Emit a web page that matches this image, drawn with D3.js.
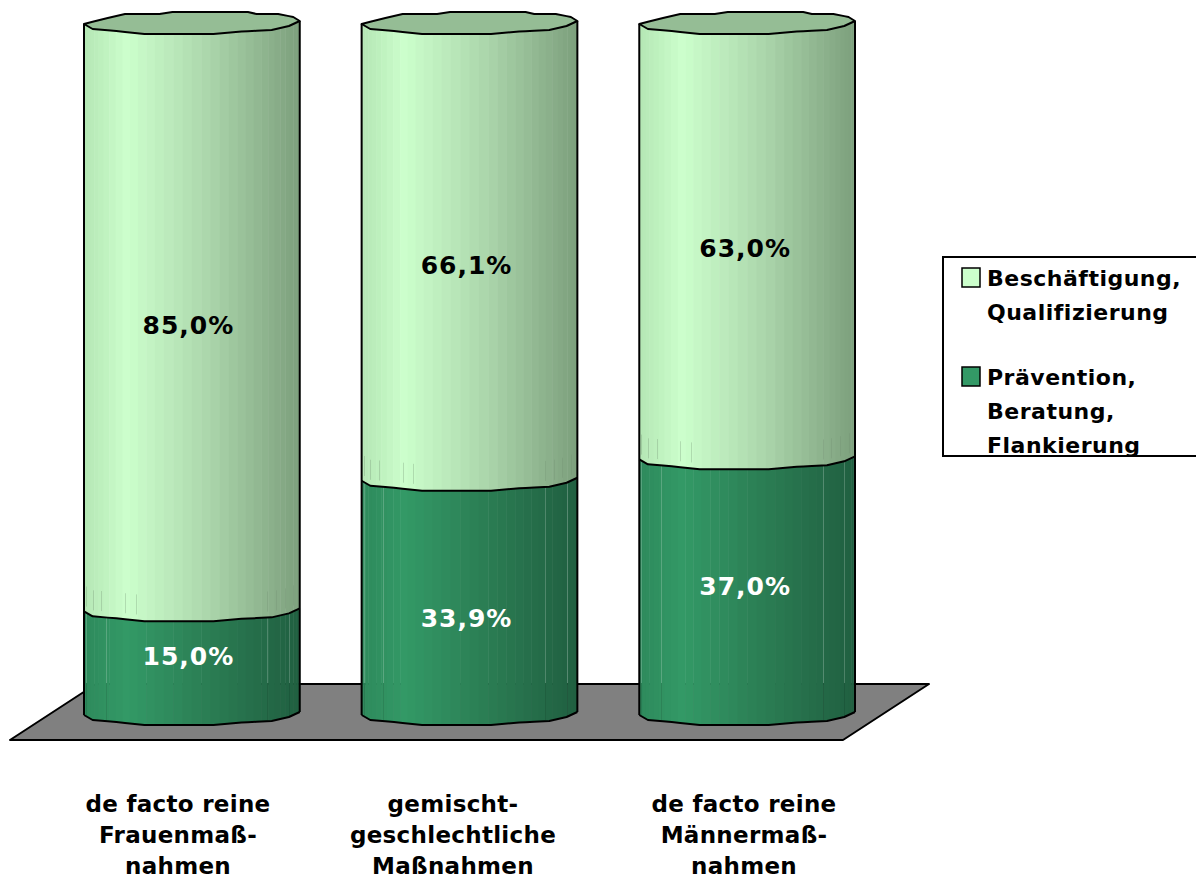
<!DOCTYPE html>
<html>
<head>
<meta charset="utf-8">
<style>
html,body{margin:0;padding:0;background:#fff;overflow:hidden}
svg{display:block}
text{font-family:"DejaVu Sans",sans-serif;font-weight:bold}
</style>
<script src="https://cdn.jsdelivr.net/npm/d3@7/dist/d3.min.js"></script>
</head>
<body>
<svg id="chart" width="1196" height="876"></svg>
<script>
// Share of measures by field of action, per group of measures
const categories = [
  ["de facto reine", "Frauenmaß-", "nahmen"],
  ["gemischt-", "geschlechtliche", "Maßnahmen"],
  ["de facto reine", "Männermaß-", "nahmen"]
];
const seriesNames = [
  ["Beschäftigung,", "Qualifizierung"],
  ["Prävention,", "Beratung,", "Flankierung"]
];
const praevention = [15.0, 33.9, 37.0];
const beschaeftigung = [85.0, 66.1, 63.0];

const svg = d3.select("#chart");
const y = d3.scaleLinear().domain([0, 100]).range([714, 23]);
const x = d3.scaleBand().domain(d3.range(categories.length)).range([84, 855]).paddingInner(0.223);
const bw = x.bandwidth();
const fmt = v => v.toFixed(1).replace(".", ",") + "%";

// Cylinder shading runs left to right across the visible face
const stops = [0, 0.2, 0.55, 1];
const lightShade = d3.scaleLinear().domain(stops).range(["#b4e6b4", "#ccffcc", "#aed9ae", "#7c9f7c"]);
const darkShade = d3.scaleLinear().domain(stops).range(["#2e8a5c", "#339966", "#2b7f55", "#205f40"]);

// Faceted rim outlines: horizontal fraction of the cylinder against vertical offset
const frontRim = d3.scaleLinear()
  .domain([0, .04, .15, .28, .6, .73, .87, .95, 1])
  .range([1, 6, 8, 11, 11, 8.5, 7, 3, -2]);
const backRim = d3.scaleLinear()
  .domain([0, .11, .19, .35, .41, .76, .8, .9, .97, 1])
  .range([1, -5, -9, -9, -11, -11, -9, -9, -6, -2]);
const rimFractions = [0, .04, .11, .15, .19, .28, .35, .41, .6, .73, .76, .8, .87, .9, .95, .97, 1];

// Floor plane
svg.append("polygon")
  .attr("points", [[10, 740], [843, 740], [929, 684], [96, 684]].join(" "))
  .attr("fill", "#808080").attr("stroke", "#000").attr("stroke-width", 2)
  .attr("stroke-linejoin", "round");

// Colour strips: narrow near the silhouette, wider toward the middle
const strips = 36;
const stripEdges = d3.range(strips + 1).map(i => (1 - Math.cos(i * Math.PI / strips)) / 2);
const line = d3.line();
const rimPath = (x0, base, rim) => rimFractions.map(f => [x0 + f * bw, base + rim(f)]);

// Seams show through near the silhouette, as short ticks or full-height lines
const shortSeams = [.01, .04, .08, .19, .24, .85, .89, .93, .97];
const longSeams = [.01, .1, .85, .95];

function segment(g, x0, v0, v1, shade) {
  const yb = y(v0), yt = y(v1);
  stripEdges.slice(0, -1).forEach((f0, i) => {
    const f1 = stripEdges[i + 1];
    g.append("polygon")
      .attr("points", [
        [x0 + f0 * bw, yt + frontRim(f0)], [x0 + f1 * bw + 0.5, yt + frontRim(f1)],
        [x0 + f1 * bw + 0.5, yb + frontRim(f1)], [x0 + f0 * bw, yb + frontRim(f0)]
      ].join(" "))
      .attr("fill", shade((f0 + f1) / 2));
  });
}

categories.forEach((lines, i) => {
  const g = svg.append("g");
  const x0 = x(i);
  const yBoundary = y(praevention[i]);
  segment(g, x0, 0, praevention[i], darkShade);
  segment(g, x0, praevention[i], 100, lightShade);

  // Seams in the upper stack stop shortly above the divider
  shortSeams.forEach(f => {
    const sx = Math.round(x0 + f * bw) + 0.5;
    g.append("line").attr("x1", sx).attr("x2", sx)
      .attr("y1", yBoundary + frontRim(f) - 26).attr("y2", yBoundary + frontRim(f) - 6)
      .attr("stroke", "#6f8f6f").attr("stroke-opacity", 0.3);
  });
  // Seams in the lower stack run from the divider to floor level
  longSeams.forEach(f => {
    const sx = Math.round(x0 + f * bw) + 0.5;
    g.append("line").attr("x1", sx).attr("x2", sx)
      .attr("y1", yBoundary + frontRim(f)).attr("y2", 683)
      .attr("stroke", "#fff").attr("stroke-opacity", 0.2);
    g.append("line").attr("x1", sx).attr("x2", sx)
      .attr("y1", 683).attr("y2", y(0) + frontRim(f) - 1)
      .attr("stroke", "#000").attr("stroke-opacity", 0.1);
  });

  const outline = d => g.append("path").attr("d", d).attr("fill", "none")
    .attr("stroke", "#000").attr("stroke-width", 2).attr("stroke-linejoin", "round");

  // Top cap
  const front = rimPath(x0, y(100), frontRim), back = rimPath(x0, y(100), backRim);
  g.append("path").attr("d", line(front.concat(back.slice().reverse())) + "Z")
    .attr("fill", "#95bd95").attr("stroke", "#000").attr("stroke-width", 2).attr("stroke-linejoin", "round");
  // Divider between the stacks and the bottom rim
  outline(line(rimPath(x0, yBoundary, frontRim)));
  outline(line(rimPath(x0, y(0), frontRim)));
  // Silhouette
  outline(line([[x0, y(100) + frontRim(0)], [x0, y(0) + frontRim(0)]]));
  outline(line([[x0 + bw, y(100) + frontRim(1)], [x0 + bw, y(0) + frontRim(1)]]));
});

// Hand-tuned placement of the value labels within each stack
const lightLabelDy = [10, 16, 9];
const darkLabelDy = [-4, 23, 2];
const labelDx = [-3.5, -3, -2];
categories.forEach((_, i) => {
  const cx = x(i) + bw / 2 + labelDx[i];
  svg.append("text").attr("x", cx).attr("y", (y(praevention[i]) + y(100)) / 2 + lightLabelDy[i])
    .attr("text-anchor", "middle").attr("dominant-baseline", "middle")
    .attr("font-size", 25).attr("fill", "#000").style("letter-spacing", "1px")
    .text(fmt(beschaeftigung[i]));
  svg.append("text").attr("x", cx).attr("y", (y(0) + y(praevention[i])) / 2 + darkLabelDy[i])
    .attr("text-anchor", "middle").attr("dominant-baseline", "middle")
    .attr("font-size", 25).attr("fill", "#fff").style("letter-spacing", "1px")
    .text(fmt(praevention[i]));
});

// Category labels under the floor
const catX = [178, 453, 744];
categories.forEach((lines, i) => {
  svg.append("text").attr("text-anchor", "middle").attr("font-size", 23).style("letter-spacing", "0.3px")
    .selectAll("tspan").data(lines).join("tspan")
    .attr("x", catX[i]).attr("y", (d, k) => 812 + k * 31).text(d => d);
});

// Legend, its frame running off the right edge
const legend = svg.append("g");
legend.append("path").attr("d", "M1197,257H943V456H1197").attr("fill", "#fff").attr("stroke", "#000").attr("stroke-width", 2);
const swatches = ["#ccffcc", "#339966"];
const legendTop = [268, 367];
seriesNames.forEach((lines, i) => {
  legend.append("rect").attr("x", 962).attr("y", legendTop[i]).attr("width", 18).attr("height", 19)
    .attr("fill", swatches[i]).attr("stroke", "#000").attr("stroke-width", 1.5);
  legend.append("text").attr("font-size", 22).style("letter-spacing", "0.5px")
    .selectAll("tspan").data(lines).join("tspan")
    .attr("x", 987).attr("y", (d, k) => legendTop[i] + 18 + k * 34).text(d => d);
});
</script>
</body>
</html>
